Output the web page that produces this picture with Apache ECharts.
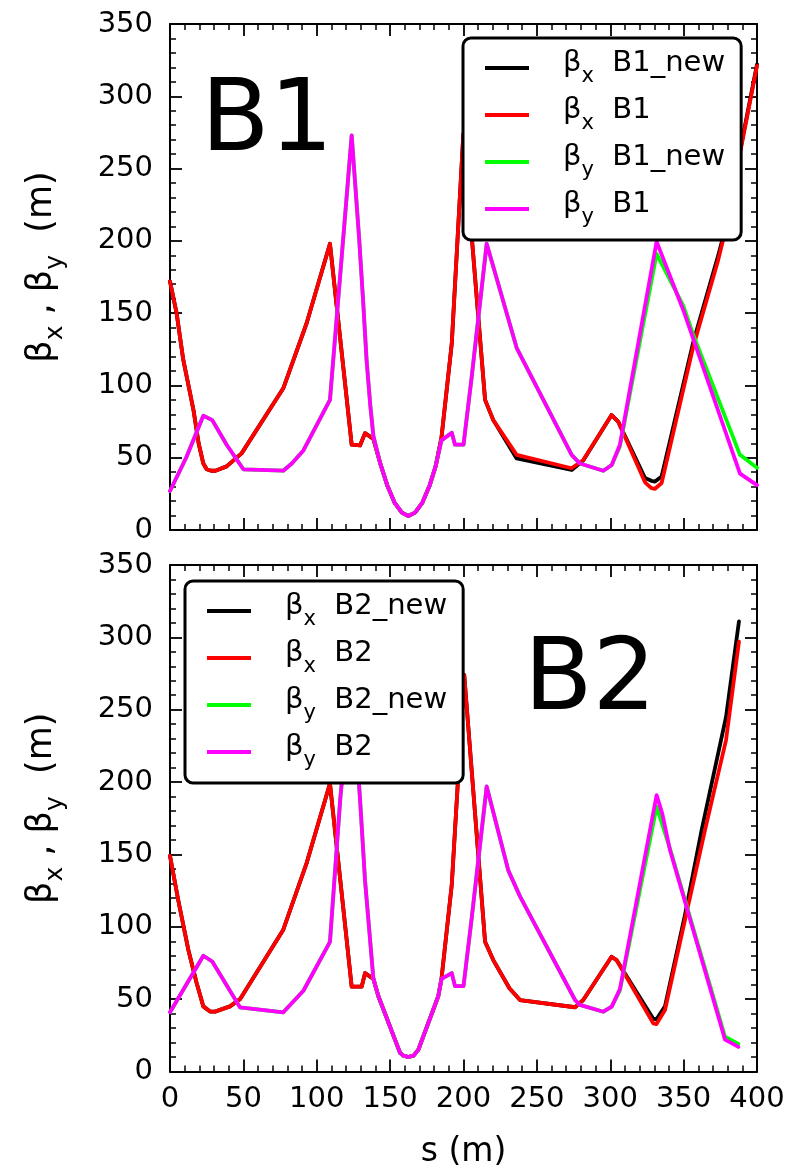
<!DOCTYPE html>
<html>
<head>
<meta charset="utf-8">
<script src="https://cdn.jsdelivr.net/npm/echarts@6/dist/echarts.min.js"></script>
<style>
  html, body { margin: 0; padding: 0; background: #fff; }
  #chart { width: 791px; height: 1170px; }
</style>
</head>
<body>
<div id="chart"></div>
<script>
// Beta functions along s (m): [s, beta] pairs for each beam and plane.
const b1BxNew = [[0,172],[4.5,150],[9,118],[16,83],[19.5,60],[22.7,46],[25,42],[28,41],[31,41],[38.6,44],[48.8,53],[77.2,98],[93.1,143],[109,198],[123.8,59],[129.5,58.5],[132.9,67],[138.6,63],[143,47],[148,31],[153,19],[158,12],[162.4,9.7],[167,12],[172,19],[177,31],[181,44],[185,64],[192,129],[199.9,274],[214.7,90],[220.3,76],[236.2,49.5],[273.7,41.5],[281.6,48],[300.9,79.5],[305.4,75],[323.7,36],[328,34],[330.5,33.5],[335,37],[356.6,130],[373.6,190],[377,203],[400,322]];
const b1BxOld = [[0,172],[4.5,150],[9,118],[16,83],[19.5,60],[22.7,46],[25,42],[28,41],[31,41],[38.6,44],[48.8,53],[77.2,98],[93.1,143],[109,198],[123.8,59],[129.5,58.5],[132.9,67],[138.6,63],[143,47],[148,31],[153,19],[158,12],[162.4,9.7],[167,12],[172,19],[177,31],[181,44],[185,64],[192,129],[199.9,274],[214.7,90],[220.3,76],[236.2,52],[273.7,42.7],[281.6,48.4],[300.9,79.5],[305.4,75],[323.7,33],[328,29],[330.5,28.5],[335,32.5],[356.6,127],[373.6,187],[377,201],[400,321]];
const b1ByNew = [[0,27],[11,50],[22.7,79],[28.8,76],[38.6,59],[50,42],[77.2,41],[83,46],[90.9,55],[109,90],[123.8,273],[129,200],[131.5,160],[134,117],[136.5,86],[138.6,65],[143,47],[148,31],[153,19],[158,12],[162.4,9.7],[167,12],[172,19],[177,31],[181,44],[185,62],[192,67.3],[194.2,59],[200,59],[205.6,106],[215.8,198],[236.2,126],[273.7,52],[279.3,46],[295.3,41],[301,45],[306.6,58],[331.6,191],[349.8,155],[356.6,135],[388.4,52],[400,43]];
const b1ByOld = [[0,27],[11,50],[22.7,79],[28.8,76],[38.6,59],[50,42],[77.2,41],[83,46],[90.9,55],[109,90],[123.8,273],[129,200],[131.5,160],[134,117],[136.5,86],[138.6,65],[143,47],[148,31],[153,19],[158,12],[162.4,9.7],[167,12],[172,19],[177,31],[181,44],[185,62],[192,67.3],[194.2,59],[200,59],[205.6,106],[215.8,198],[236.2,126],[273.7,52],[279.3,46],[295.3,41],[301,45],[306.6,59],[331.6,199.5],[349.8,152],[388.4,39],[400,31]];

const b2BxNew = [[0,149],[5.7,118],[12.5,84],[18.2,61],[22.7,45],[27.3,41.4],[30.7,41.4],[40.9,45],[47.7,50],[77.2,98],[93.1,144],[109,199],[123.8,58.6],[130.6,58.6],[132.9,68],[138.6,64],[142,52],[156.7,13],[159,11],[162.4,10],[166,11],[169.2,15],[182.8,52],[185,64],[192,129],[200.5,274],[214.7,89.7],[220.3,77],[231.3,57.5],[238.5,49.4],[276,44.4],[281.6,49.4],[300.9,79.3],[304.3,77],[329.3,36.5],[331.5,36],[337.3,45],[350.9,108],[362.3,167],[378.9,245],[387.7,311]];
const b2BxOld = [[0,149],[5.7,118],[12.5,84],[18.2,61],[22.7,45],[27.3,41.4],[30.7,41.4],[40.9,45],[47.7,50],[77.2,98],[93.1,144],[109,199],[123.8,58.6],[130.6,58.6],[132.9,68],[138.6,64],[142,52],[156.7,13],[159,11],[162.4,10],[166,11],[169.2,15],[182.8,52],[185,64],[192,129],[200.5,274],[214.7,89.7],[220.3,77],[231.3,57.5],[238.5,49.4],[276,44.4],[281.6,49.4],[300.9,79.3],[304.3,77],[329.3,33.3],[331.5,32.8],[337.3,42.5],[350.9,104.7],[364.6,167],[378.9,229],[387.7,297]];
const b2ByNew = [[0,41],[22.7,80],[28.8,76],[47.7,44.3],[77.2,40.9],[90.9,55.8],[109,89.6],[116,188],[123.8,273],[129.5,188],[132.9,132],[138.6,64],[142,52],[156.7,13],[159,11],[162.4,10],[166,11],[169.2,15],[182.8,52],[185,64],[192,68],[194.2,59],[200,59],[205.6,106],[215.8,197],[230.5,139],[238.5,121],[276,49.4],[279.3,46],[295.3,41.3],[301,44.8],[306.6,56],[331.6,183],[340.7,154],[378.2,24],[387.3,19]];
const b2ByOld = [[0,41],[22.7,80],[28.8,76],[47.7,44.3],[77.2,40.9],[90.9,55.8],[109,89.6],[116,188],[123.8,273],[129.5,188],[132.9,132],[138.6,64],[142,52],[156.7,13],[159,11],[162.4,10],[166,11],[169.2,15],[182.8,52],[185,64],[192,68],[194.2,59],[200,59],[205.6,106],[215.8,197],[230.5,139],[238.5,121],[276,49.4],[279.3,46],[295.3,41.3],[301,44.8],[306.6,57],[331.6,191],[335.5,178],[340.7,153],[378.2,22],[387.3,17]];

// Axis ranges and tick steps
const sRange = [0, 400];
const sStep = 50;
const betaRange = [0, 350];
const betaStep = 50;

const FONT = 'DejaVu Sans';
const colors = { bxNew: '#000000', bxOld: '#ff0000', byNew: '#00ff00', byOld: '#ff00ff' };

const subRich = {
  m:  { fontFamily: FONT, fontSize: 29, lineHeight: 38, verticalAlign: 'top', color: '#000' },
  m0: { fontFamily: FONT, fontSize: 29, lineHeight: 38, verticalAlign: 'top', color: '#000', padding: [0, 0, 0, 29] },
  s:  { fontFamily: FONT, fontSize: 21, lineHeight: 21, verticalAlign: 'top', color: '#000', padding: [17, 0, 0, 0] }
};
const nameRich = {
  m: { fontFamily: FONT, fontSize: 35, lineHeight: 44, verticalAlign: 'top', color: '#000' },
  s: { fontFamily: FONT, fontSize: 25, lineHeight: 25, verticalAlign: 'top', color: '#000', padding: [19, 0, 0, 0] }
};

function frameAxis(extra) {
  return Object.assign({
    type: 'value',
    axisLine: { show: true, onZero: false, lineStyle: { color: '#000', width: 2 } },
    axisTick: { show: true, inside: true, length: 12, lineStyle: { color: '#000', width: 1.8 } },
    minorTick: { show: true, splitNumber: 5, length: 6, lineStyle: { color: '#000', width: 1.5 } },
    splitLine: { show: false },
    minorSplitLine: { show: false },
    axisLabel: { show: false }
  }, extra);
}

const xAxes = [];
const yAxes = [];
[0, 1].forEach(g => {
  const bottomX = { gridIndex: g, position: 'bottom', min: sRange[0], max: sRange[1], interval: sStep };
  if (g === 1) {
    bottomX.axisLabel = { show: true, fontFamily: FONT, fontSize: 29, color: '#000', margin: 13 };
    bottomX.name = 's (m)';
    bottomX.nameLocation = 'middle';
    bottomX.nameGap = 64;
    bottomX.nameTextStyle = { fontFamily: FONT, fontSize: 33, color: '#000' };
  }
  xAxes.push(frameAxis(bottomX));
  xAxes.push(frameAxis({ gridIndex: g, position: 'top', min: sRange[0], max: sRange[1], interval: sStep }));
  yAxes.push(frameAxis({
    gridIndex: g, position: 'left', min: betaRange[0], max: betaRange[1], interval: betaStep,
    axisLabel: { show: true, fontFamily: FONT, fontSize: 29, color: '#000', margin: 17 },
    name: '{m|β}{s|x}{m| , β}{s|y}{m|  (m)}',
    nameLocation: 'middle',
    nameGap: 102,
    nameTextStyle: { rich: nameRich, padding: [0, 0, 0, 20] }
  }));
  yAxes.push(frameAxis({ gridIndex: g, position: 'right', min: betaRange[0], max: betaRange[1], interval: betaStep }));
});

function line(name, data, color, g) {
  return {
    type: 'line', name, data, xAxisIndex: g * 2, yAxisIndex: g * 2,
    showSymbol: false, symbol: 'none', color,
    lineStyle: { color, width: 3.8, join: 'round', cap: 'round' },
    emphasis: { disabled: true }, animation: false, clip: true
  };
}

const series = [
  line('βx B1_new', b1BxNew, colors.bxNew, 0),
  line('βx B1', b1BxOld, colors.bxOld, 0),
  line('βy B1_new', b1ByNew, colors.byNew, 0),
  line('βy B1', b1ByOld, colors.byOld, 0),
  line('βx B2_new', b2BxNew, colors.bxNew, 1),
  line('βx B2', b2BxOld, colors.bxOld, 1),
  line('βy B2_new', b2ByNew, colors.byNew, 1),
  line('βy B2', b2ByOld, colors.byOld, 1)
];

function legendBox(names, left, top) {
  return {
    data: names, orient: 'vertical', left, top,
    padding: [11, 16, 12, 22],
    itemWidth: 44, itemHeight: 4, itemGap: 9, icon: 'rect',
    itemStyle: { borderWidth: 0 },
    backgroundColor: '#fff', borderColor: '#000', borderWidth: 3, borderRadius: 8,
    selectedMode: false,
    formatter: n => '{m0|β}{s|' + n.charAt(1) + '}{m|  ' + n.slice(3) + '}',
    textStyle: { rich: subRich }
  };
}

const chart = echarts.init(document.getElementById('chart'), null, { renderer: 'canvas' });
chart.setOption({
  animation: false,
  backgroundColor: '#fff',
  grid: [
    { left: 170, right: 34, top: 24, height: 506 },
    { left: 170, right: 34, top: 565, height: 506.5 }
  ],
  xAxis: xAxes,
  yAxis: yAxes,
  legend: [
    legendBox(['βx B1_new', 'βx B1', 'βy B1_new', 'βy B1'], 463, 38),
    legendBox(['βx B2_new', 'βx B2', 'βy B2_new', 'βy B2'], 185, 581)
  ],
  graphic: [
    { type: 'text', left: 201, top: 74, z: 50, style: { text: 'B1', font: '100px "DejaVu Sans"', fill: '#000' } },
    { type: 'text', left: 524, top: 633, z: 50, style: { text: 'B2', font: '100px "DejaVu Sans"', fill: '#000' } }
  ],
  series
});
</script>
</body>
</html>
